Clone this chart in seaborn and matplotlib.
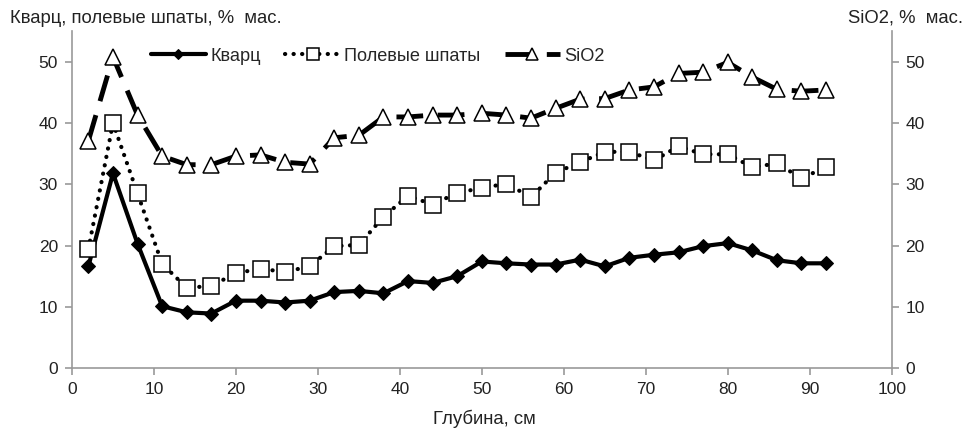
import numpy as np
import pandas as pd
import seaborn as sns
import matplotlib.pyplot as plt

# depth, cm
depth = [2, 5, 8, 11, 14, 17, 20, 23, 26, 29, 32, 35, 38, 41, 44, 47,
         50, 53, 56, 59, 62, 65, 68, 71, 74, 77, 80, 83, 86, 89, 92]

quartz = [16.6, 31.8, 20.3, 10.1, 9.1, 8.9, 11.0, 11.0, 10.7, 11.0, 12.4, 12.6, 12.2, 14.2, 13.9, 15.0,
          17.4, 17.1, 16.9, 16.9, 17.7, 16.6, 18.0, 18.5, 18.9, 19.9, 20.4, 19.2, 17.6, 17.1, 17.1]

feldspar = [19.4, 40.0, 28.5, 17.0, 13.1, 13.4, 15.5, 16.2, 15.7, 16.6, 19.9, 20.1, 24.7, 28.1, 26.7, 28.6,
            29.4, 30.1, 27.9, 31.9, 33.6, 35.3, 35.3, 33.9, 36.2, 34.9, 34.9, 32.8, 33.4, 31.0, 32.8]

sio2 = [37.1, 50.8, 41.3, 34.6, 33.2, 33.2, 34.6, 34.8, 33.6, 33.3, 37.6, 38.0, 41.0, 41.0, 41.3, 41.3,
        41.6, 41.3, 40.8, 42.4, 43.9, 44.0, 45.4, 45.9, 48.1, 48.3, 49.9, 47.5, 45.5, 45.2, 45.4]

names = ["Кварц", "Полевые шпаты", "SiO2"]

df = pd.DataFrame({"depth": depth, "quartz": quartz, "feldspar": feldspar, "sio2": sio2})

sns.set_style("white")
plt.rcParams['font.family'] = ['Liberation Sans', 'DejaVu Sans']

fig = plt.figure(figsize=(9.65, 4.33), dpi=100)
ax = fig.add_axes([0.0746, 0.150, 0.8494, 0.778])
ax2 = ax.twinx()

sns.lineplot(data=df, x="depth", y="quartz", ax=ax, color="black", lw=3,
             marker="D", markersize=7, markerfacecolor="black", markeredgecolor="black")
sns.lineplot(data=df, x="depth", y="feldspar", ax=ax, color="black", lw=3,
             linestyle=(0, (0.05, 2.0)), dash_capstyle="round",
             marker="s", markersize=11, markerfacecolor="white", markeredgecolor="black",
             markeredgewidth=1.1)
sns.lineplot(data=df, x="depth", y="sio2", ax=ax2, color="black", lw=3.5,
             linestyle=(0, (5.5, 3)),
             marker="^", markersize=11, markerfacecolor="white", markeredgecolor="black",
             markeredgewidth=1.1)

for a in (ax, ax2):
    a.set_xlim(0, 100)
    a.set_ylim(0, 55)
    a.set_yticks(range(0, 51, 10))
    a.set_xlabel("")
    a.set_ylabel("")
    a.spines["top"].set_visible(False)
    for s in ("left", "right", "bottom"):
        a.spines[s].set_color("#999999")
        a.spines[s].set_linewidth(1.2)
    a.tick_params(axis="both", direction="out", length=5, width=1.2, color="#999999",
                  labelsize=12.5, labelcolor="#222222", pad=5)
    a.patch.set_alpha(0)

ax.spines["right"].set_visible(False)
ax2.spines["left"].set_visible(False)
ax2.spines["bottom"].set_visible(False)
ax.tick_params(axis="y", left=True, right=False)
ax.tick_params(axis="x", bottom=True)
ax2.tick_params(axis="y", right=True, left=False)
ax.set_xticks(range(0, 101, 10))

fig.text(0.010, 0.958, "Кварц, полевые шпаты, %  мас.", fontsize=13.3, color="#222222", va="center")
fig.text(0.998, 0.958, "SiO2, %  мас.", fontsize=13.3, color="#222222", va="center", ha="right")
fig.text(0.502, 0.032, "Глубина, см", fontsize=13.3, color="#222222", ha="center", va="center")

handles = [ax.lines[0], ax.lines[1], ax2.lines[0]]
leg = ax.legend(handles, names, loc="upper left", bbox_to_anchor=(0.0765, 1.0), ncol=3,
                frameon=False, fontsize=13.1, handlelength=3.0, columnspacing=1.35,
                handletextpad=0.25, markerscale=0.75)

fig.savefig("out.png", dpi=100)
